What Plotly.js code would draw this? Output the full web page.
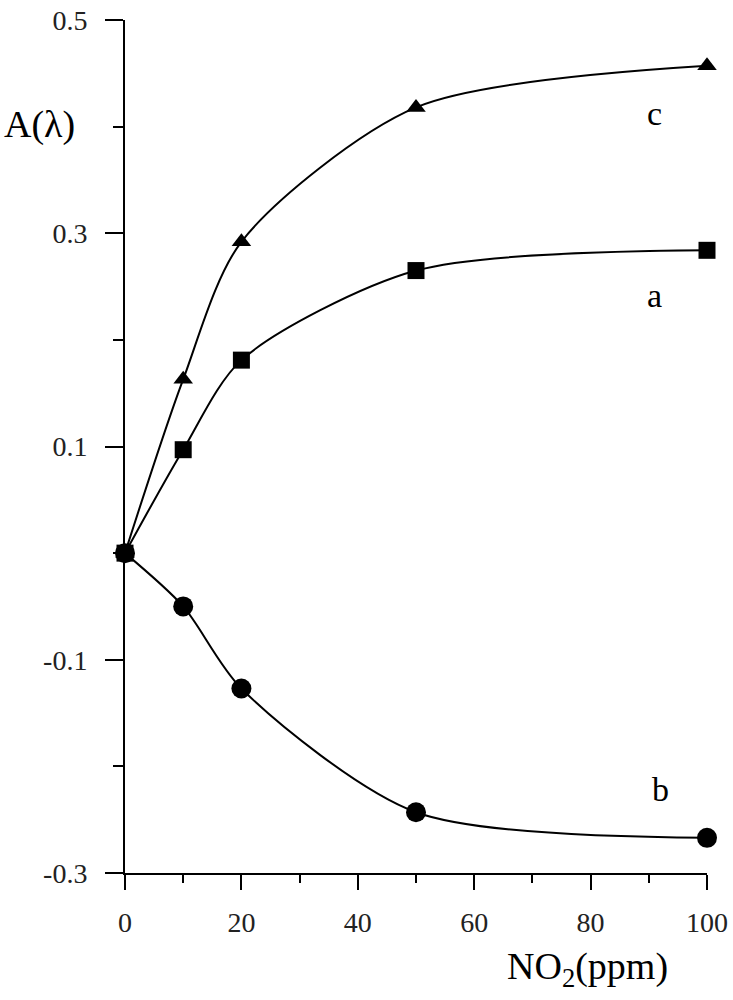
<!DOCTYPE html>
<html>
<head>
<meta charset="utf-8">
<script src="https://cdn.plot.ly/plotly-3.0.1.min.js"></script>
<style>html,body{margin:0;padding:0;background:#fff;}#chart{width:733px;height:1000px;}</style>
</head>
<body>
<div id="chart"></div>
<script>
const xValues = [0, 10, 20, 50, 100];
const seriesA = [0, 0.097, 0.181, 0.265, 0.284];
const seriesB = [0, -0.050, -0.127, -0.243, -0.267];
const seriesC = [0, 0.163, 0.292, 0.418, 0.457];
const seriesLabels = ['a', 'b', 'c'];
const yTickVals = [-0.3, -0.1, 0.1, 0.3, 0.5];
const yTickText = ['-0.3', '-0.1', '0.1', '0.3', '0.5'];
const xTickVals = [0, 20, 40, 60, 80, 100];

const font = 'Liberation Serif, Times New Roman, serif';
function tr(y, sym, size) {
  return {
    x: xValues, y: y, type: 'scatter', mode: 'lines+markers',
    line: {color: '#000', width: 2, shape: 'spline', smoothing: 0.8},
    marker: {symbol: sym, size: size, color: '#000'},
    cliponaxis: false, showlegend: false
  };
}
const data = [tr(seriesC, 'triangle-up', 17), tr(seriesA, 'square', 17), tr(seriesB, 'circle', 20)];

const layout = {
  width: 733, height: 1000,
  margin: {l: 125, r: 26, t: 20, b: 127},
  paper_bgcolor: '#fff', plot_bgcolor: '#fff',
  font: {family: font, color: '#000', size: 28},
  xaxis: {
    range: [0, 100], tickvals: xTickVals, ticks: 'outside', ticklen: 15, tickwidth: 2, tickcolor: '#000',
    minor: {dtick: 10, ticks: 'outside', ticklen: 8, tickwidth: 2, tickcolor: '#000'},
    showline: true, linecolor: '#000', linewidth: 2, showgrid: false, zeroline: false,
    tickfont: {family: font, size: 28, color: '#222'}, ticklabelstandoff: 8
  },
  yaxis: {
    range: [-0.3, 0.5], tickvals: yTickVals, ticktext: yTickText, ticks: 'outside', ticklen: 18, tickwidth: 2, tickcolor: '#000',
    minor: {dtick: 0.1, tick0: 0, ticks: 'outside', ticklen: 10, tickwidth: 2, tickcolor: '#000'},
    showline: true, linecolor: '#000', linewidth: 2, showgrid: false, zeroline: false,
    tickfont: {family: font, size: 28, color: '#222'}, ticklabelstandoff: 12
  },
  annotations: [
    {text: 'A(λ)', xref: 'paper', yref: 'paper', x: -0.212, y: 0.878, xanchor: 'left', yanchor: 'middle', showarrow: false, font: {size: 38}},
    {text: 'NO<sub>2</sub>(ppm)', xref: 'paper', yref: 'paper', x: 0.937, y: -0.112, xanchor: 'right', yanchor: 'middle', showarrow: false, font: {size: 38}},
    {text: seriesLabels[2], x: 91, y: 0.412, showarrow: false, font: {size: 34}},
    {text: seriesLabels[0], x: 91, y: 0.242, showarrow: false, font: {size: 34}},
    {text: seriesLabels[1], x: 92, y: -0.222, showarrow: false, font: {size: 34}}
  ]
};
Plotly.newPlot('chart', data, layout, {displayModeBar: false, staticPlot: true});
</script>
</body>
</html>
